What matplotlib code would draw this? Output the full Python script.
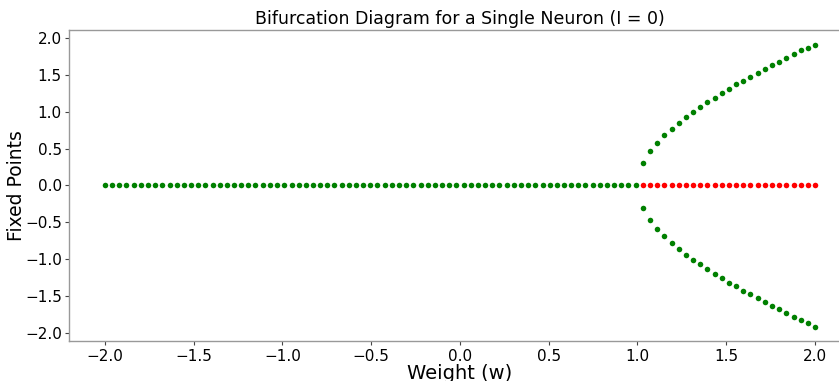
import matplotlib
matplotlib.use("Agg")
import matplotlib.pyplot as plt

# weights where x* = 0 is stable (w < 1)
w_low = [-2.000, -1.960, -1.919, -1.879, -1.838, -1.798, -1.758, -1.717, -1.677, -1.636,
         -1.596, -1.556, -1.515, -1.475, -1.434, -1.394, -1.354, -1.313, -1.273, -1.232,
         -1.192, -1.152, -1.111, -1.071, -1.030, -0.990, -0.949, -0.909, -0.869, -0.828,
         -0.788, -0.747, -0.707, -0.667, -0.626, -0.586, -0.545, -0.505, -0.465, -0.424,
         -0.384, -0.343, -0.303, -0.263, -0.222, -0.182, -0.141, -0.101, -0.061, -0.020,
         0.020, 0.061, 0.101, 0.141, 0.182, 0.222, 0.263, 0.303, 0.343, 0.384,
         0.424, 0.465, 0.505, 0.545, 0.586, 0.626, 0.667, 0.707, 0.747, 0.788,
         0.828, 0.869, 0.909, 0.949, 0.990]
x_low = [0.0] * len(w_low)

# weights past the pitchfork (w > 1)
w_high = [1.030, 1.071, 1.111, 1.152, 1.192, 1.232, 1.273, 1.313, 1.354, 1.394,
          1.434, 1.475, 1.515, 1.556, 1.596, 1.636, 1.677, 1.717, 1.758, 1.798,
          1.838, 1.879, 1.919, 1.960, 2.000]
x_zero_unstable = [0.0] * len(w_high)
x_upper = [0.30, 0.46, 0.58, 0.68, 0.77, 0.85, 0.93, 1.00, 1.07, 1.13,
           1.19, 1.25, 1.31, 1.37, 1.42, 1.47, 1.53, 1.58, 1.63, 1.68,
           1.73, 1.78, 1.83, 1.87, 1.91]
x_lower = [-0.31, -0.47, -0.59, -0.69, -0.78, -0.86, -0.94, -1.01, -1.07, -1.14,
           -1.20, -1.26, -1.32, -1.37, -1.43, -1.48, -1.53, -1.58, -1.63, -1.68,
           -1.73, -1.78, -1.82, -1.87, -1.92]

fig = plt.figure(figsize=(8.39, 3.81), dpi=100)
ax = fig.add_axes([0.0828, 0.105, 0.9309, 0.815])

dot = 16
ax.scatter(w_low, x_low, color="green", s=dot, linewidths=0)
ax.scatter(w_high, x_zero_unstable, color="red", s=dot, linewidths=0)
ax.scatter(w_high, x_upper, color="green", s=dot, linewidths=0)
ax.scatter(w_high, x_lower, color="green", s=dot, linewidths=0)

ax.set_xticks([-2.0, -1.5, -1.0, -0.5, 0.0, 0.5, 1.0, 1.5, 2.0])
ax.set_yticks([-2.0, -1.5, -1.0, -0.5, 0.0, 0.5, 1.0, 1.5, 2.0])
ax.tick_params(labelsize=11, length=3, width=0.8, color="#444", pad=2.5)
for s in ax.spines.values():
    s.set_color("#999999")
    s.set_linewidth(1.0)

ax.set_xlabel("Weight (w)", fontsize=14, labelpad=0)
ax.set_ylabel("Fixed Points", fontsize=13.5, labelpad=-1)
ax.set_title("Bifurcation Diagram for a Single Neuron (I = 0)", fontsize=12.5, pad=5)

plt.savefig("out.png", dpi=100)
